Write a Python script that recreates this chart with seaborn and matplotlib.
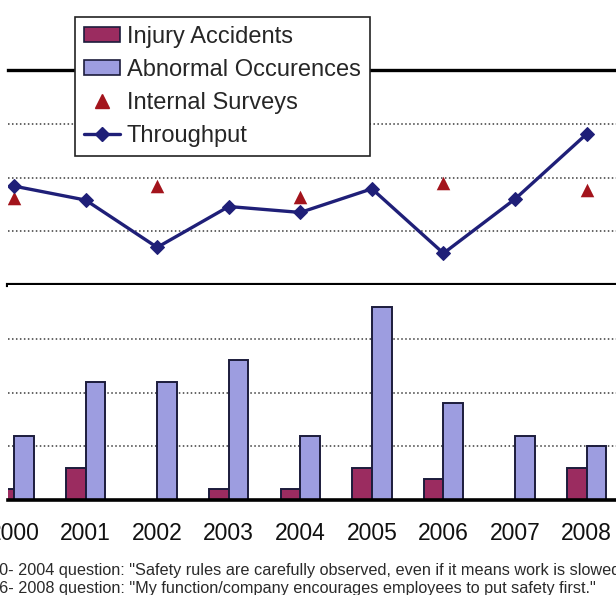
import numpy as np
import pandas as pd
import seaborn as sns
import matplotlib.pyplot as plt
from matplotlib.patches import Patch
from matplotlib.lines import Line2D

# values
years = ['2000', '2001', '2002', '2003', '2004', '2005', '2006', '2007', '2008']
injury_accidents = [1, 3, 0, 1, 1, 3, 2, 0, 3]
abnormal_occurences = [6, 11, 11, 13, 6, 18, 9, 6, 5]
throughput = [1.84, 1.58, 0.70, 1.46, 1.35, 1.79, 0.59, 1.60, 2.81]
survey_years = ['2000', '2002', '2004', '2006', '2008']
internal_surveys = [1.61, 1.84, 1.64, 1.90, 1.77]
notes = ['2000- 2004 question: "Safety rules are carefully observed, even if it means work is slowed down."',
         '2006- 2008 question: "My function/company encourages employees to put safety first."']

c_injury = '#9b2c60'
c_abnormal = '#9d9de0'
c_edge = '#1c1c3c'
c_line = '#1f1f78'
c_tri = '#a3141c'

sns.set_style('white')
plt.rcParams['font.family'] = ['Liberation Sans', 'DejaVu Sans']

W, H = 616, 595
fig = plt.figure(figsize=(W / 100, H / 100), dpi=100)
left, right = 8 / W, 1.0
ax_top = fig.add_axes([left, (H - 285) / H, right - left, 215 / H])
ax_bot = fig.add_axes([left, (H - 500) / H, right - left, 215 / H])

pos = {y: i for i, y in enumerate(years)}

# top panel: throughput and surveys
sns.lineplot(x=[pos[y] for y in years], y=throughput, ax=ax_top, color=c_line,
             lw=2.4, marker='D', markersize=7.5, markeredgecolor=c_line)
sns.scatterplot(x=[pos[y] for y in survey_years], y=internal_surveys, ax=ax_top,
                marker='^', s=95, color=c_tri, linewidth=0)

# bottom panel: bars
bars = pd.DataFrame({
    'Year': years * 2,
    'Count': injury_accidents + abnormal_occurences,
    'Series': ['Injury Accidents'] * len(years) + ['Abnormal Occurences'] * len(years),
})
sns.barplot(data=bars, x='Year', y='Count', hue='Series', order=years,
            palette={'Injury Accidents': c_injury, 'Abnormal Occurences': c_abnormal},
            width=0.55, saturation=1, edgecolor=c_edge, linewidth=1.4,
            legend=False, ax=ax_bot)

xlim = (-0.084, 8.41)
for ax, ylim, grid in [(ax_top, (0, 4), [1, 2, 3]), (ax_bot, (0, 20), [5, 10, 15])]:
    ax.set_xlim(*xlim)
    ax.set_ylim(*ylim)
    ax.set_yticks(grid)
    ax.set_yticklabels([])
    ax.tick_params(axis='y', length=0)
    ax.yaxis.grid(True, linestyle=(0, (1, 1.6)), color='#3a3a3a', lw=1.1)
    ax.set_axisbelow(True)
    ax.set_xlabel('')
    ax.set_ylabel('')
    for s in ['left', 'right']:
        ax.spines[s].set_visible(False)

ax_top.spines['top'].set_linewidth(2.4)
ax_top.spines['top'].set_color('black')
ax_top.spines['bottom'].set_linewidth(3)
ax_top.spines['bottom'].set_color('black')
ax_top.set_xticks([])
ax_bot.spines['top'].set_visible(False)
ax_bot.spines['bottom'].set_linewidth(2.6)
ax_bot.spines['bottom'].set_color('black')

ax_bot.set_xticks(range(len(years)))
ax_bot.set_xticklabels(years, fontsize=16.5, color='#111111')
ax_bot.set_xticks(np.arange(0.5, len(years) - 1, 1), minor=True)
ax_bot.tick_params(axis='x', which='major', length=0, pad=16)
ax_bot.tick_params(axis='x', which='minor', direction='inout', length=10,
                   width=1.2, color='#444444')

handles = [
    Patch(facecolor=c_injury, edgecolor=c_edge, lw=1.2),
    Patch(facecolor=c_abnormal, edgecolor=c_edge, lw=1.2),
    Line2D([], [], ls='none', marker='^', color=c_tri, markersize=10),
    Line2D([], [], color=c_line, lw=2.4, marker='D', markersize=7.5),
]
labels = ['Injury Accidents', 'Abnormal Occurences', 'Internal Surveys', 'Throughput']
leg = fig.legend(handles, labels, loc='upper left', bbox_to_anchor=(75 / W, 1 - 17 / H),
                 fontsize=17, frameon=True, fancybox=False, edgecolor='#222222',
                 framealpha=1, handlelength=1.53, handleheight=0.64, handletextpad=0.28,
                 labelspacing=0.46, borderpad=0.38, borderaxespad=0)
leg.get_frame().set_linewidth(1.2)

for i, note in enumerate(notes):
    fig.text(-28 / W, 1 - (570 + 18 * i) / H, note, fontsize=11.7, color='#2a2a2a',
             va='center', ha='left')

fig.savefig('out.png', dpi=100)
